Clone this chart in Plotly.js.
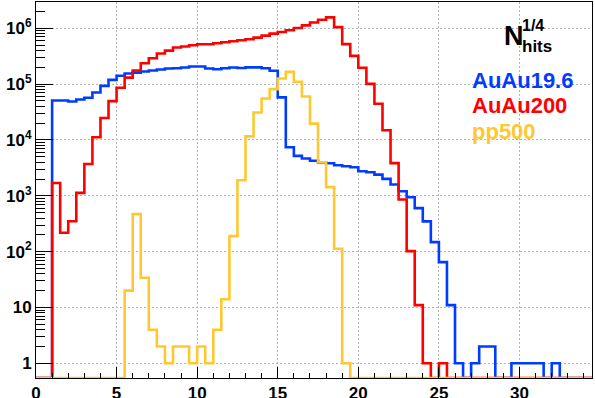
<!DOCTYPE html>
<html><head><meta charset="utf-8">
<script src="https://cdn.plot.ly/plotly-3.0.1.min.js"></script>
<style>html,body{margin:0;padding:0;background:#fff;} #chart{width:595px;height:398px;}</style>
</head><body><div id="chart"></div>
<script>
// Bin low edges (bin width 0.5), last upper edge 34.5
const binLowEdges = [0,0.5,1,1.5,2,2.5,3,3.5,4,4.5,5,5.5,6,6.5,7,7.5,8,8.5,9,9.5,
  10,10.5,11,11.5,12,12.5,13,13.5,14,14.5,15,15.5,16,16.5,17,17.5,18,18.5,19,19.5,
  20,20.5,21,21.5,22,22.5,23,23.5,24,24.5,25,25.5,26,26.5,27,27.5,28,28.5,29,29.5,
  30,30.5,31,31.5,32,32.5,33,33.5,34];
const lastUpperEdge = 34.5;

const auau196 = [0,0,51000,51000,49000,53000,57000,71000,93000,119000,
  141000,155000,161000,168000,175000,183000,190000,193000,199000,207000,
  207000,190000,185000,193000,199000,195000,200000,200000,193000,174000,
  58000,7400,5200,4650,4250,3950,3820,3520,3380,3240,
  2750,2640,2400,2010,1590,1210,944,601,348,148,
  65,11,1,0,1,2,2,0,0,1,
  1,1,1,0,1,0,0,0,0];

const auau200 = [0,0,1700,218,350,1130,3720,11200,24700,49700,
  85900,131000,175000,237000,291000,353000,399000,452000,471000,497000,
  518000,518000,540000,563000,586000,611000,637000,681000,740000,803000,
  861000,921000,1010000,1130000,1270000,1420000,1570000,1050000,520000,321000,
  196000,101000,44500,14900,3850,860,102,11,1,0,
  1,0,0,0,0,0,0,0,0,0,
  0,0,0,0,0,0,0,0,0];

const pp500 = [0,0,0,0,0,0,0,0,0,0,
  0,20,470,34,4,2,1,2,2,1,
  2,1,4,14,190,1900,11600,31100,55300,81400,
  126000,166000,110000,60100,19600,3980,1430,113,1,0,
  0,0,0,0,0,0,0,0,0,0,
  0,0,0,0,0,0,0,0,0,0,
  0,0,0,0,0,0,0,0,0];

const seriesNames = ['AuAu19.6','AuAu200','pp500'];
const xTickVals = [0,5,10,15,20,25,30];
const xTickText = ['0','5','10','15','20','25','30'];
const yTickVals = [1,10,100,1000,10000,100000,1000000];
const yTickText = ['1','10','10<sup>2</sup>','10<sup>3</sup>','10<sup>4</sup>','10<sup>5</sup>','10<sup>6</sup>'];

const colors = ['#003cff','#ff0000','#ffc832'];
const yRangeLog = [-0.263, 6.471];
const yFloor = Math.pow(10, yRangeLog[0]);

function stepTrace(vals, name, color){
  const x = binLowEdges.concat([lastUpperEdge]);
  const y = vals.map(v => v > 0 ? v : yFloor);
  y.push(y[y.length-1]);
  return {x:x, y:y, name:name, type:'scatter', mode:'lines',
    line:{shape:'hv', color:color, width:2.6}, hoverinfo:'skip'};
}

const minorY = [];
for (let e = 0; e <= 6; e++) for (let d = 2; d <= 9; d++) minorY.push(d*Math.pow(10,e));

const data = [
  stepTrace(auau196, seriesNames[0], colors[0]),
  stepTrace(auau200, seriesNames[1], colors[1]),
  stepTrace(pp500, seriesNames[2], colors[2])
];

const tickFont = {family:'Liberation Sans, Arial, sans-serif', size:17, color:'#000', weight:700};
const gridDash = '1.5px,2.5px';

function px2x(px){ return (px-36)/556; }
function py2y(py){ return (378-py)/376; }

const layout = {
  width:595, height:398,
  margin:{l:36, r:3, t:2, b:20, pad:0},
  paper_bgcolor:'#fff', plot_bgcolor:'#fff',
  showlegend:false,
  xaxis:{range:[0,34.5], tickmode:'array', tickvals:xTickVals, ticktext:xTickText,
    ticks:'inside', ticklen:11, tickwidth:1, tickcolor:'#000',
    showline:true, linecolor:'#000', linewidth:1, mirror:true,
    showgrid:true, gridcolor:'#b4b4b4', gridwidth:1, griddash:gridDash,
    zeroline:false, tickfont:tickFont,
    minor:{dtick:1, tick0:0, ticks:'inside', ticklen:5.5, tickcolor:'#000', tickwidth:1, showgrid:false}},
  yaxis:{type:'log', range:yRangeLog, tickmode:'array', tickvals:yTickVals, ticktext:yTickText,
    ticks:'inside', ticklen:17, tickwidth:1, tickcolor:'#000',
    showline:true, linecolor:'#000', linewidth:1, mirror:true,
    showgrid:true, gridcolor:'#b4b4b4', gridwidth:1, griddash:gridDash,
    zeroline:false, tickfont:tickFont,
    minor:{tickmode:'array', tickvals:minorY, ticks:'inside', ticklen:8.5, tickcolor:'#000', tickwidth:1, showgrid:false}},
  annotations:[
    {text:'N', xref:'paper', yref:'paper', x:px2x(502), y:py2y(36), xanchor:'left', yanchor:'middle',
      showarrow:false, font:{family:'Liberation Sans, Arial, sans-serif', size:27, color:'#000', weight:700}},
    {text:'1/4', xref:'paper', yref:'paper', x:px2x(520), y:py2y(26), xanchor:'left', yanchor:'middle',
      showarrow:false, font:{family:'Liberation Sans, Arial, sans-serif', size:16, color:'#000', weight:700}},
    {text:'hits', xref:'paper', yref:'paper', x:px2x(520), y:py2y(46), xanchor:'left', yanchor:'middle',
      showarrow:false, font:{family:'Liberation Sans, Arial, sans-serif', size:17, color:'#000', weight:700}},
    {text:seriesNames[0], xref:'paper', yref:'paper', x:px2x(470), y:py2y(80), xanchor:'left', yanchor:'middle',
      showarrow:false, font:{family:'Liberation Sans, Arial, sans-serif', size:22, color:colors[0], weight:700}},
    {text:seriesNames[1], xref:'paper', yref:'paper', x:px2x(470), y:py2y(105), xanchor:'left', yanchor:'middle',
      showarrow:false, font:{family:'Liberation Sans, Arial, sans-serif', size:22, color:colors[1], weight:700}},
    {text:seriesNames[2], xref:'paper', yref:'paper', x:px2x(470), y:py2y(131), xanchor:'left', yanchor:'middle',
      showarrow:false, font:{family:'Liberation Sans, Arial, sans-serif', size:22, color:colors[2], weight:700}}
  ]
};

Plotly.newPlot('chart', data, layout, {staticPlot:true, displayModeBar:false});
</script>
</body></html>
